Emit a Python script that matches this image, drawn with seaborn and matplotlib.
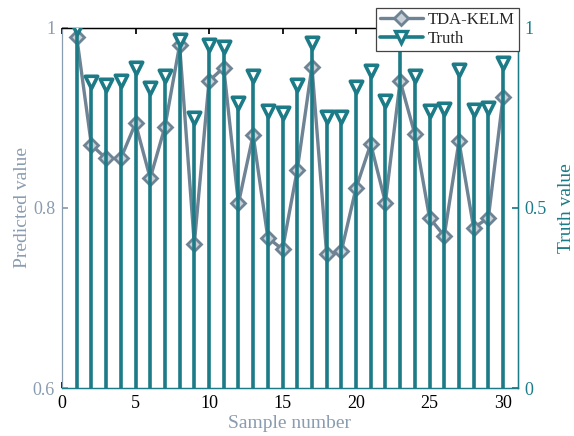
import numpy as np
import pandas as pd
import matplotlib
matplotlib.use("Agg")
import matplotlib.pyplot as plt
import seaborn as sns

# data
samples = list(range(1, 31))
predicted = [0.990, 0.870, 0.855, 0.855, 0.894, 0.833, 0.890, 0.981, 0.760, 0.941,
             0.956, 0.805, 0.881, 0.767, 0.754, 0.842, 0.957, 0.749, 0.752, 0.822,
             0.871, 0.806, 0.941, 0.882, 0.789, 0.769, 0.874, 0.778, 0.789, 0.923]
truth = [1.000, 0.850, 0.842, 0.853, 0.889, 0.833, 0.867, 0.967, 0.750, 0.953,
         0.947, 0.792, 0.867, 0.769, 0.764, 0.842, 0.958, 0.753, 0.753, 0.836,
         0.881, 0.797, 1.000, 0.867, 0.769, 0.775, 0.883, 0.772, 0.778, 0.903]

PRED_COLOR = "#6e8394"
AXIS_GRAY = "#8a9cb0"
TEAL = "#1c7b86"

sns.set_theme(style="white")
plt.rcParams["font.family"] = ["Liberation Serif", "DejaVu Serif"]

df = pd.DataFrame({"sample": samples, "predicted": predicted, "truth": truth})

fig = plt.figure(figsize=(5.74, 4.36), dpi=100)
ax = fig.add_axes([0.108, 0.110, 0.794, 0.826])
ax2 = ax.twinx()

sns.lineplot(data=df, x="sample", y="predicted", ax=ax, color=PRED_COLOR,
             linewidth=2.4, marker="D", markersize=7, markeredgewidth=2,
             markerfacecolor="#c9d1d8", markeredgecolor=PRED_COLOR,
             legend=False)

# truth as stems on the right axis
ax2.vlines(df["sample"], 0, df["truth"], color=TEAL, linewidth=2.6, zorder=2)
sns.scatterplot(data=df, x="sample", y="truth", ax=ax2, marker="v", s=80,
                color="white", edgecolor=TEAL, linewidth=2.6, zorder=3, legend=False)

ax.set_xlim(0, 31)
ax.set_ylim(0.6, 1.0)
ax2.set_ylim(0, 1.0)
ax.set_xticks([0, 5, 10, 15, 20, 25, 30])
ax.set_yticks([0.6, 0.8, 1.0])
ax.set_yticklabels(["0.6", "0.8", "1"])
ax2.set_yticks([0, 0.5, 1.0])
ax2.set_yticklabels(["0", "0.5", "1"])

ax.set_xlabel("Sample number", fontsize=14, color=AXIS_GRAY, labelpad=2)
ax.set_ylabel("Predicted value", fontsize=14, color=AXIS_GRAY, labelpad=1)
ax2.set_ylabel("Truth value", fontsize=14, color=TEAL, labelpad=8)

ax.tick_params(axis="x", direction="in", top=True, bottom=True, length=4,
               labelsize=13, colors="black", labelcolor="black", pad=5)
ax.tick_params(axis="y", direction="in", length=4, labelsize=13,
               colors=AXIS_GRAY, labelcolor=AXIS_GRAY, pad=5)
ax2.tick_params(axis="y", direction="in", length=4, labelsize=13,
                colors=TEAL, labelcolor=TEAL, pad=5)

for a in (ax, ax2):
    for sp in a.spines.values():
        sp.set_linewidth(0.9)
ax.spines["top"].set_color("black")
ax.spines["left"].set_color(AXIS_GRAY)
ax.spines["bottom"].set_color(TEAL)
ax2.spines["right"].set_color(TEAL)
ax2.spines["left"].set_visible(False)
ax2.spines["top"].set_color("black")
ax2.spines["bottom"].set_color(TEAL)

# legend
h1 = plt.Line2D([], [], color=PRED_COLOR, linewidth=2.4, marker="D", markersize=7,
                markeredgewidth=2, markerfacecolor="#c9d1d8", markeredgecolor=PRED_COLOR)
h2 = plt.Line2D([], [], color=TEAL, linewidth=2.6, marker="v", markersize=8,
                markeredgewidth=2.4, markerfacecolor="white", markeredgecolor=TEAL)
leg = ax2.legend([h1, h2], ["TDA-KELM", "Truth"], loc="upper right",
                 bbox_to_anchor=(1.003, 1.055), fontsize=12, frameon=True,
                 fancybox=False, edgecolor="#444444", framealpha=1,
                 borderpad=0.25, labelspacing=0.15, handlelength=2.6,
                 handletextpad=0.3, borderaxespad=0)
leg.get_frame().set_linewidth(0.9)
leg.set_zorder(10)

fig.savefig("out.png", dpi=100)
